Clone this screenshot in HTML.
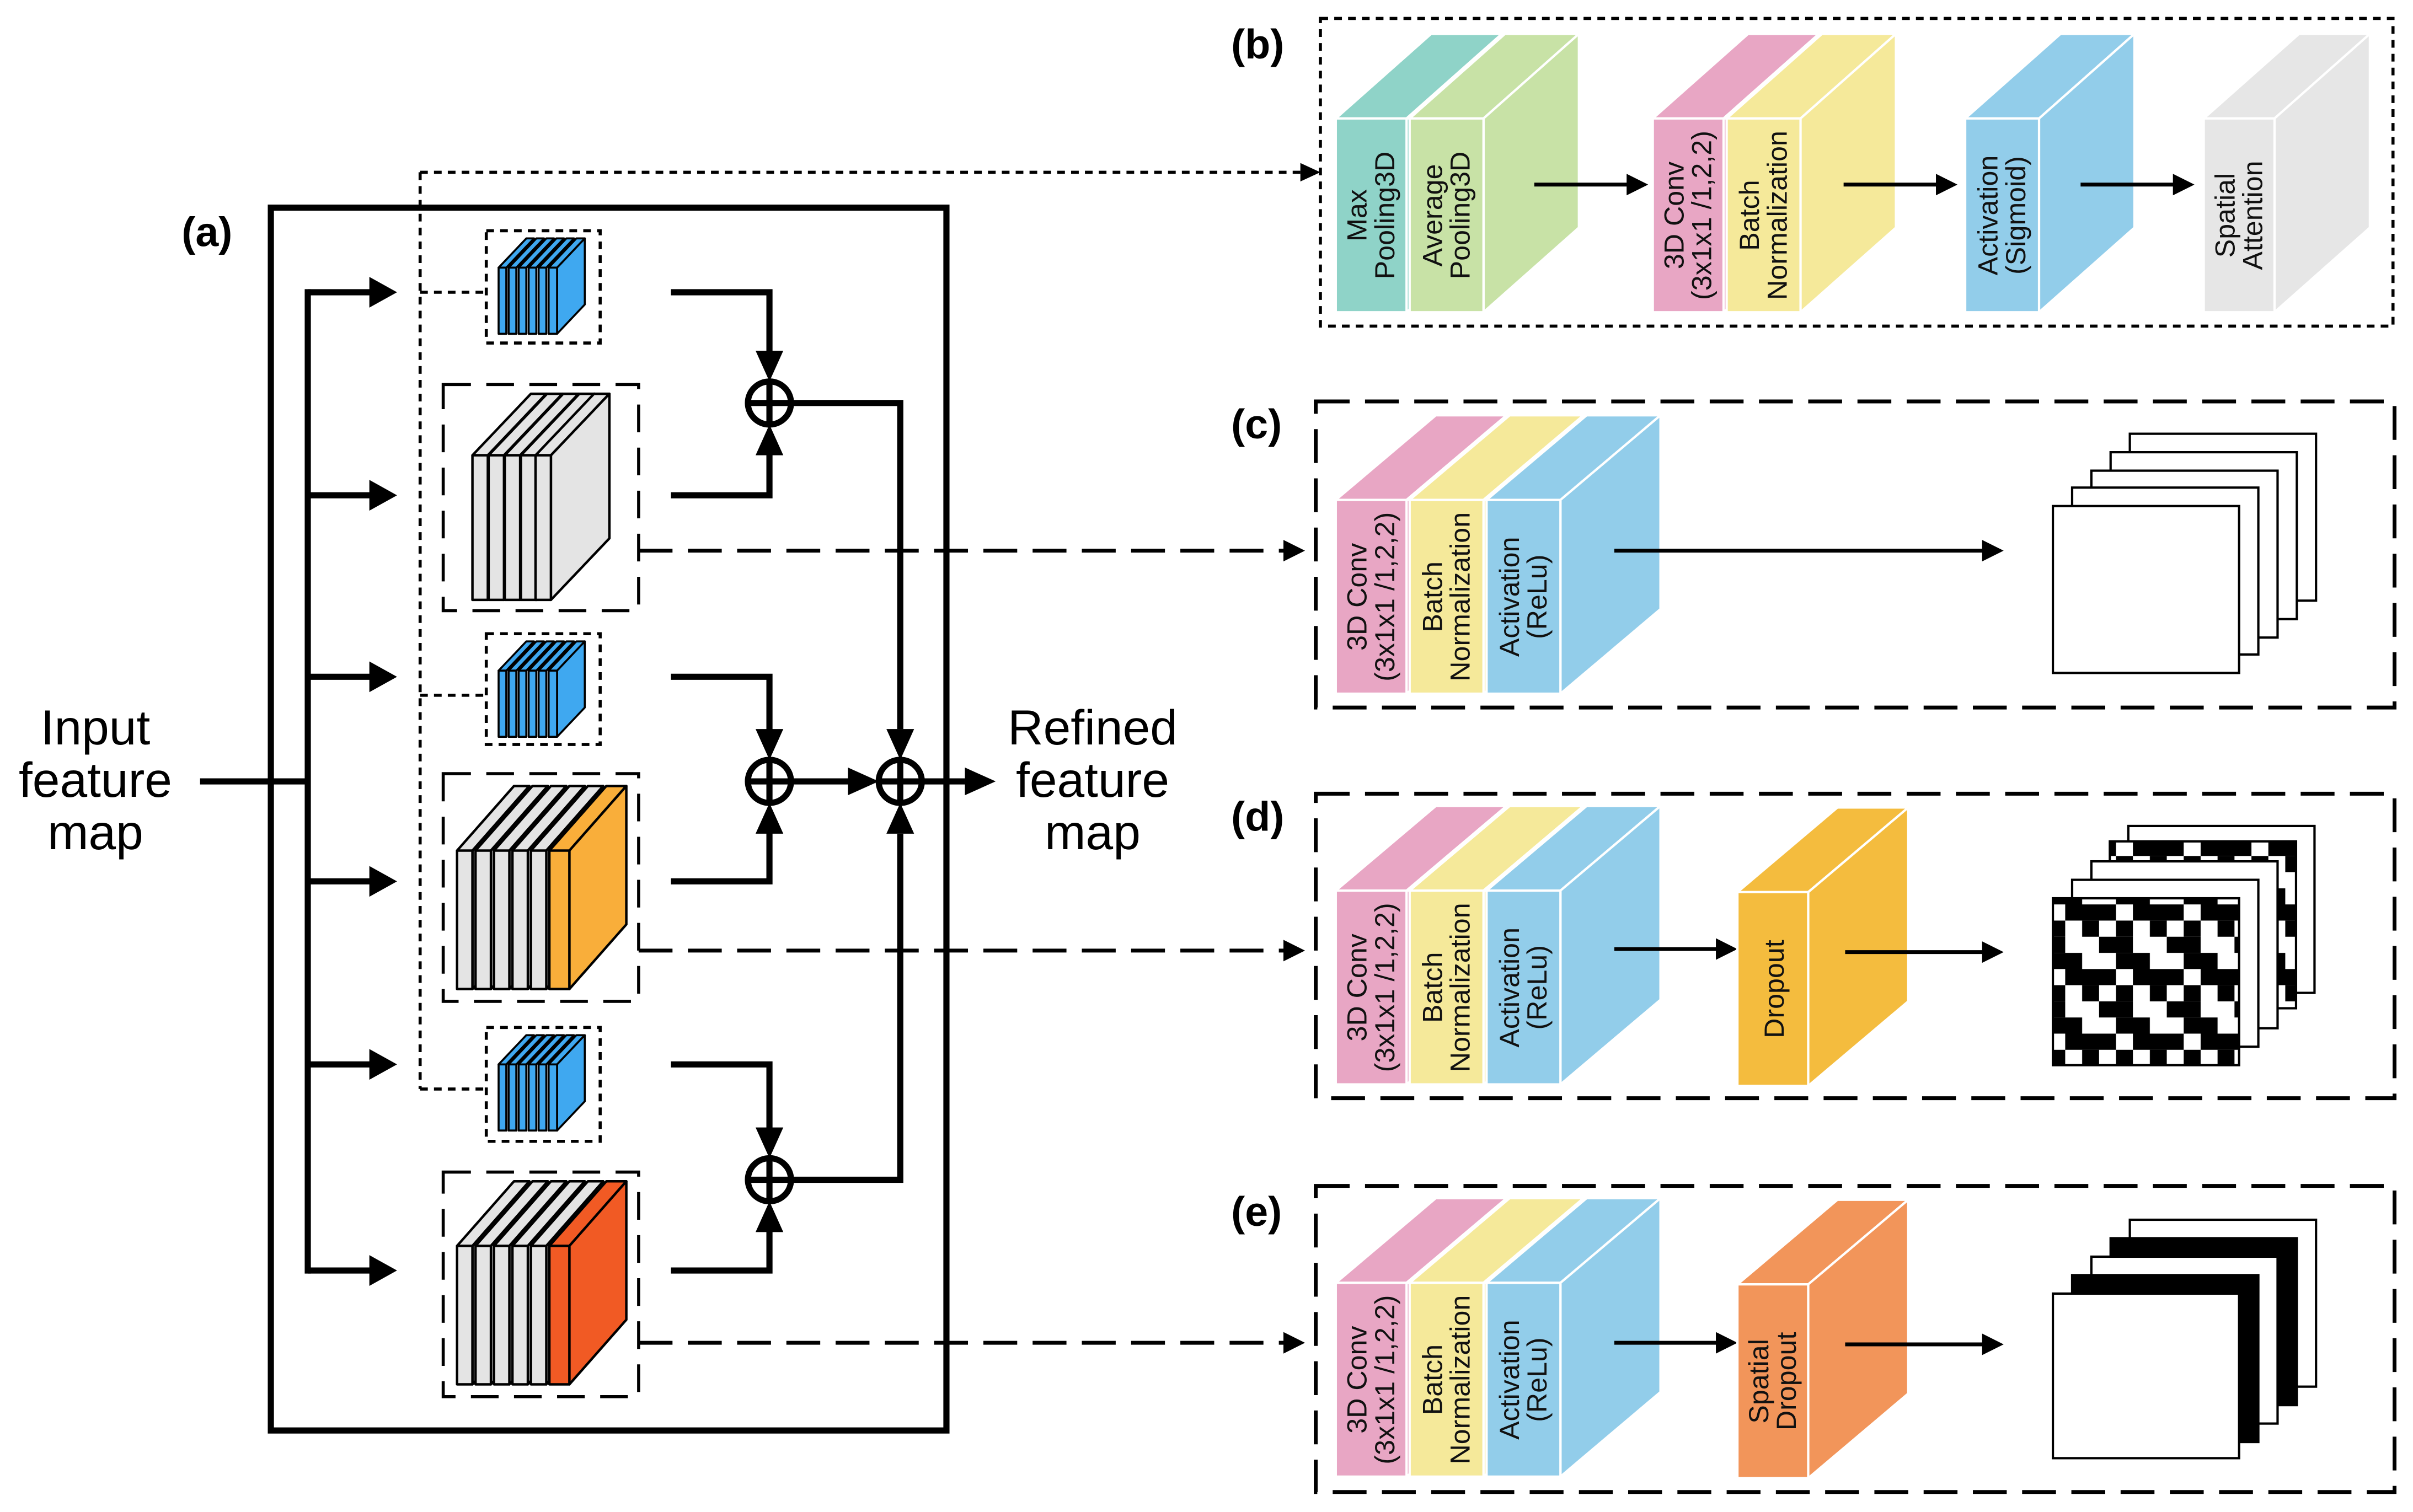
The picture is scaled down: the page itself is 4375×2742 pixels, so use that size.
<!DOCTYPE html>
<html><head><meta charset="utf-8"><style>html,body{margin:0;padding:0;background:#fff}svg{display:block}text{font-family:"Liberation Sans",Arial,sans-serif}</style></head>
<body>
<svg xmlns="http://www.w3.org/2000/svg" width="4375" height="2742" viewBox="0 0 1568 983" preserveAspectRatio="none">
<defs>
<pattern id="chk" patternUnits="userSpaceOnUse" width="44" height="42">
<rect width="44" height="42" fill="#fff"/>
<g fill="#000">
<rect x="0" y="0" width="11" height="10.5"/><rect x="22" y="0" width="22" height="10.5"/>
<rect x="11" y="10.5" width="11" height="10.5"/><rect x="33" y="10.5" width="11" height="10.5"/>
<rect x="0" y="21" width="22" height="10.5"/>
<rect x="11" y="31.5" width="22" height="10.5"/>
</g>
</pattern>
</defs>
<rect width="1568" height="983" fill="#fff"/>

<text x="118" y="160" font-size="27" font-weight="bold">(a)</text>
<rect x="176" y="135" width="439" height="795" fill="none" stroke="#000" stroke-width="4"/>
<text font-size="32" text-anchor="middle"><tspan x="62" y="484">Input</tspan><tspan x="62" y="518">feature</tspan><tspan x="62" y="552">map</tspan></text>
<text font-size="32" text-anchor="middle"><tspan x="710" y="484">Refined</tspan><tspan x="710" y="518">feature</tspan><tspan x="710" y="552">map</tspan></text>

<g stroke="#000" stroke-width="4" fill="none">
<path d="M130 508H200M200 188V828"/>
<path d="M200 190H242M200 322H242M200 440H242M200 573H242M200 692H242M200 826H242"/>
</g>
<g fill="#000">
<polygon points="258,190 240,180 240,200"/><polygon points="258,322 240,312 240,332"/><polygon points="258,440 240,430 240,450"/>
<polygon points="258,573 240,563 240,583"/><polygon points="258,692 240,682 240,702"/><polygon points="258,826 240,816 240,836"/>
</g>

<g stroke="#000" stroke-width="2" fill="none" stroke-dasharray="5,4">
<path d="M273 112V708M273 190H316M273 452H316M273 708H316M273 112H845"/>
</g>
<polygon points="858,112 845,106 845,118" fill="#000"/>

<g stroke="#000" stroke-width="2.5" fill="none" stroke-dasharray="22,10">
<path d="M415 358H834M415 618H834M415 873H834"/>
</g>
<g fill="#000">
<polygon points="848,358 834,351 834,365"/><polygon points="848,618 834,611 834,625"/><polygon points="848,873 834,866 834,880"/>
</g>

<g stroke="#000" stroke-width="2" fill="none" stroke-dasharray="5,4">
<rect x="316" y="150" width="74" height="73"/><rect x="316" y="412" width="74" height="72"/><rect x="316" y="668" width="74" height="74"/>
</g>
<g stroke="#000" stroke-width="2" fill="none" stroke-dasharray="18,10">
<rect x="288" y="250" width="127" height="147"/><rect x="288" y="503" width="127" height="148"/><rect x="288" y="762" width="127" height="146"/>
</g>

<g stroke="#000" stroke-width="1.3" fill="#3fa8f0" stroke-linejoin="round">
<g id="sb1">
<polygon points="324,174 329,174 347,155 342,155"/><rect x="324" y="174" width="5" height="43"/>
<polygon points="330.5,174 335.5,174 353.5,155 348.5,155"/><rect x="330.5" y="174" width="5" height="43"/>
<polygon points="337,174 342,174 360,155 355,155"/><rect x="337" y="174" width="5" height="43"/>
<polygon points="343.5,174 348.5,174 366.5,155 361.5,155"/><rect x="343.5" y="174" width="5" height="43"/>
<polygon points="350,174 355,174 373,155 368,155"/><rect x="350" y="174" width="5" height="43"/>
<polygon points="356.5,174 362,174 380,155 374.5,155"/><polygon points="362,174 380,155 380,198 362,217"/><rect x="356.5" y="174" width="5.5" height="43"/>
</g>
<use href="#sb1" y="262"/>
<use href="#sb1" y="518"/>
</g>

<g stroke="#000" stroke-width="1.6" fill="#e4e4e4" stroke-linejoin="round">
<g>
<polygon points="307,296 317,296 355,256 345,256"/><polygon points="317,296 355,256 355,350 317,390"/><rect x="307" y="296" width="10" height="94"/>
<polygon points="317.5,296 327.5,296 365.5,256 355.5,256"/><polygon points="327.5,296 365.5,256 365.5,350 327.5,390"/><rect x="317.5" y="296" width="10" height="94"/>
<polygon points="328,296 338,296 376,256 366,256"/><polygon points="338,296 376,256 376,350 338,390"/><rect x="328" y="296" width="10" height="94"/>
<polygon points="338.5,296 348.5,296 386.5,256 376.5,256"/><polygon points="348.5,296 386.5,256 386.5,350 348.5,390"/><rect x="338.5" y="296" width="10" height="94"/>
<polygon points="348,296 358,296 396,256 386,256"/><polygon points="358,296 396,256 396,350 358,390"/><rect x="348" y="296" width="10" height="94"/>
</g>
<g>
<polygon points="297,553 307,553 344,511 334,511"/><polygon points="307,553 344,511 344,601 307,643"/><rect x="297" y="553" width="10" height="90"/>
<polygon points="309,553 319,553 356,511 346,511"/><polygon points="319,553 356,511 356,601 319,643"/><rect x="309" y="553" width="10" height="90"/>
<polygon points="321,553 331,553 368,511 358,511"/><polygon points="331,553 368,511 368,601 331,643"/><rect x="321" y="553" width="10" height="90"/>
<polygon points="333,553 343,553 380,511 370,511"/><polygon points="343,553 380,511 380,601 343,643"/><rect x="333" y="553" width="10" height="90"/>
<polygon points="345,553 355,553 392,511 382,511"/><polygon points="355,553 392,511 392,601 355,643"/><rect x="345" y="553" width="10" height="90"/>
<g fill="#f9ae3a"><polygon points="357,553 370,553 407,511 394,511"/><polygon points="370,553 407,511 407,601 370,643"/><rect x="357" y="553" width="13" height="90"/></g>
</g>
<g>
<polygon points="297,810 307,810 344,768 334,768"/><polygon points="307,810 344,768 344,858 307,900"/><rect x="297" y="810" width="10" height="90"/>
<polygon points="309,810 319,810 356,768 346,768"/><polygon points="319,810 356,768 356,858 319,900"/><rect x="309" y="810" width="10" height="90"/>
<polygon points="321,810 331,810 368,768 358,768"/><polygon points="331,810 368,768 368,858 331,900"/><rect x="321" y="810" width="10" height="90"/>
<polygon points="333,810 343,810 380,768 370,768"/><polygon points="343,810 380,768 380,858 343,900"/><rect x="333" y="810" width="10" height="90"/>
<polygon points="345,810 355,810 392,768 382,768"/><polygon points="355,810 392,768 392,858 355,900"/><rect x="345" y="810" width="10" height="90"/>
<g fill="#f15a24"><polygon points="357,810 370,810 407,768 394,768"/><polygon points="370,810 407,768 407,858 370,900"/><rect x="357" y="810" width="13" height="90"/></g>
</g>
</g>

<g stroke="#000" stroke-width="4" fill="none">
<path d="M436 190H500V230M436 322H500V294"/>
<path d="M436 440H500V476M436 573H500V540"/>
<path d="M436 692H500V735M436 826H500V799"/>
<path d="M514 262H585V474M514 767H585V542M514 508H553M599 508H627"/>
<circle cx="500" cy="262" r="14"/><path d="M486 262H514M500 248V276"/>
<circle cx="500" cy="508" r="14"/><path d="M486 508H514M500 494V522"/>
<circle cx="500" cy="767" r="14"/><path d="M486 767H514M500 753V781"/>
<circle cx="585" cy="508" r="14"/><path d="M571 508H599M585 494V522"/>
</g>
<g fill="#000">
<polygon points="500,248 491,228 509,228"/><polygon points="500,276 491,296 509,296"/>
<polygon points="500,494 491,474 509,474"/><polygon points="500,522 491,542 509,542"/>
<polygon points="500,753 491,733 509,733"/><polygon points="500,781 491,801 509,801"/>
<polygon points="585,494 576,474 594,474"/><polygon points="585,522 576,542 594,542"/>
<polygon points="571,508 551,499 551,517"/><polygon points="647,508 627,499 627,517"/>
</g>

<rect x="858" y="12" width="697" height="200" fill="none" stroke="#000" stroke-width="2" stroke-dasharray="5,4"/>
<g fill="none" stroke="#000" stroke-width="2.5" stroke-dasharray="22,10">
<rect x="855" y="261" width="701" height="199"/>
<rect x="855" y="516" width="701" height="198"/>
<rect x="855" y="771" width="701" height="199"/>
</g>
<g font-size="27" font-weight="bold">
<text x="800" y="38">(b)</text><text x="800" y="285">(c)</text><text x="800" y="540">(d)</text><text x="800" y="797">(e)</text>
</g>

<g stroke="#fff" stroke-width="1.5">
<g fill="#8fd3c8"><polygon points="868,77 914,77 976,22 930,22"/><polygon points="914,77 976,22 976,148 914,203"/><rect x="868" y="77" width="46" height="126"/></g>
<g fill="#c8e2a6"><polygon points="916,77 964,77 1026,22 978,22"/><polygon points="964,77 1026,22 1026,148 964,203"/><rect x="916" y="77" width="48" height="126"/></g>
<g fill="#e8a6c4"><polygon points="1074,77 1120,77 1182,22 1136,22"/><polygon points="1120,77 1182,22 1182,148 1120,203"/><rect x="1074" y="77" width="46" height="126"/></g>
<g fill="#f5e99a"><polygon points="1122,77 1170,77 1232,22 1184,22"/><polygon points="1170,77 1232,22 1232,148 1170,203"/><rect x="1122" y="77" width="48" height="126"/></g>
<g fill="#92cdea"><polygon points="1277,77 1325,77 1387,22 1339,22"/><polygon points="1325,77 1387,22 1387,148 1325,203"/><rect x="1277" y="77" width="48" height="126"/></g>
<g fill="#e6e6e6"><polygon points="1432,77 1478,77 1540,22 1494,22"/><polygon points="1478,77 1540,22 1540,148 1478,203"/><rect x="1432" y="77" width="46" height="126"/></g>
</g>
<g font-size="18" text-anchor="middle" fill="#111">
<text transform="translate(891,140) rotate(-90)"><tspan x="0" y="-3">Max</tspan><tspan x="0" y="15">Pooling3D</tspan></text>
<text transform="translate(940,140) rotate(-90)"><tspan x="0" y="-3">Average</tspan><tspan x="0" y="15">Pooling3D</tspan></text>
<text transform="translate(1097,140) rotate(-90)"><tspan x="0" y="-3">3D Conv</tspan><tspan x="0" y="15">(3x1x1 /1,2,2)</tspan></text>
<text transform="translate(1146,140) rotate(-90)"><tspan x="0" y="-3">Batch</tspan><tspan x="0" y="15">Normalization</tspan></text>
<text transform="translate(1301,140) rotate(-90)"><tspan x="0" y="-3">Activation</tspan><tspan x="0" y="15">(Sigmoid)</tspan></text>
<text transform="translate(1455,140) rotate(-90)"><tspan x="0" y="-3">Spatial</tspan><tspan x="0" y="15">Attention</tspan></text>
</g>
<g stroke="#000" stroke-width="2.5"><path d="M997 120H1058M1198 120H1259M1352 120H1413"/></g>
<g fill="#000"><polygon points="1071,120 1057,113 1057,127"/><polygon points="1272,120 1258,113 1258,127"/><polygon points="1426,120 1412,113 1412,127"/></g>

<g id="stk" stroke="#fff" stroke-width="1.5">
<g fill="#e8a6c4"><polygon points="868,325 914,325 979,270 933,270"/><polygon points="914,325 979,270 979,396 914,451"/><rect x="868" y="325" width="46" height="126"/></g>
<g fill="#f5e99a"><polygon points="916,325 964,325 1029,270 981,270"/><polygon points="964,325 1029,270 1029,396 964,451"/><rect x="916" y="325" width="48" height="126"/></g>
<g fill="#92cdea"><polygon points="966,325 1014,325 1079,270 1031,270"/><polygon points="1014,325 1079,270 1079,396 1014,451"/><rect x="966" y="325" width="48" height="126"/></g>
<g font-size="18" text-anchor="middle" fill="#111" stroke="none">
<text transform="translate(891,388) rotate(-90)"><tspan x="0" y="-3">3D Conv</tspan><tspan x="0" y="15">(3x1x1 /1,2,2)</tspan></text>
<text transform="translate(940,388) rotate(-90)"><tspan x="0" y="-3">Batch</tspan><tspan x="0" y="15">Normalization</tspan></text>
<text transform="translate(990,388) rotate(-90)"><tspan x="0" y="-3">Activation</tspan><tspan x="0" y="15">(ReLu)</tspan></text>
</g>
</g>
<use href="#stk" y="254"/>
<use href="#stk" y="509"/>

<path d="M1049 358H1289" stroke="#000" stroke-width="2.5"/><polygon points="1302,358 1288,351 1288,365" fill="#000"/>
<g stroke="#000" stroke-width="1.5" fill="#fff">
<rect x="1384" y="282" width="121" height="108.5"/>
<rect x="1371.5" y="294" width="121" height="108.5"/>
<rect x="1359" y="306" width="121" height="108.5"/>
<rect x="1346.5" y="317" width="121" height="108.5"/>
<rect x="1334" y="329" width="121" height="108.5"/>
</g>

<path d="M1049 617H1116" stroke="#000" stroke-width="2.5"/><polygon points="1129,617 1115,610 1115,624" fill="#000"/>
<g stroke="#fff" stroke-width="1.5" fill="#f4bc3e"><polygon points="1129,580 1175,580 1240,525 1194,525"/><polygon points="1175,580 1240,525 1240,651 1175,706"/><rect x="1129" y="580" width="46" height="126"/></g>
<text transform="translate(1159,643) rotate(-90)" font-size="18" text-anchor="middle" fill="#111">Dropout</text>
<path d="M1199 619H1289" stroke="#000" stroke-width="2.5"/><polygon points="1302,619 1288,612 1288,626" fill="#000"/>
<g stroke="#000" stroke-width="1.5">
<rect x="1383" y="537" width="121" height="108.5" fill="#fff"/>
<rect x="1371" y="547" width="121" height="108.5" fill="url(#chk)"/>
<rect x="1359" y="560" width="121" height="108.5" fill="#fff"/>
<rect x="1346.5" y="572" width="121" height="108.5" fill="#fff"/>
<rect x="1334" y="584" width="121" height="108.5" fill="url(#chk)"/>
</g>

<path d="M1049 873H1116" stroke="#000" stroke-width="2.5"/><polygon points="1129,873 1115,866 1115,880" fill="#000"/>
<g stroke="#fff" stroke-width="1.5" fill="#f2955a"><polygon points="1129,835 1175,835 1240,780 1194,780"/><polygon points="1175,835 1240,780 1240,906 1175,961"/><rect x="1129" y="835" width="46" height="126"/></g>
<text transform="translate(1152,898) rotate(-90)" font-size="18" text-anchor="middle" fill="#111"><tspan x="0" y="-3">Spatial</tspan><tspan x="0" y="15">Dropout</tspan></text>
<path d="M1199 874H1289" stroke="#000" stroke-width="2.5"/><polygon points="1302,874 1288,867 1288,881" fill="#000"/>
<g stroke="#000" stroke-width="1.5">
<rect x="1384" y="793" width="121" height="108.5" fill="#fff"/>
<rect x="1371.5" y="805" width="121" height="108.5" fill="#000"/>
<rect x="1359" y="817" width="121" height="108.5" fill="#fff"/>
<rect x="1346.5" y="829" width="121" height="108.5" fill="#000"/>
<rect x="1334" y="841" width="121" height="107" fill="#fff"/>
</g>
</svg>
</body></html>
